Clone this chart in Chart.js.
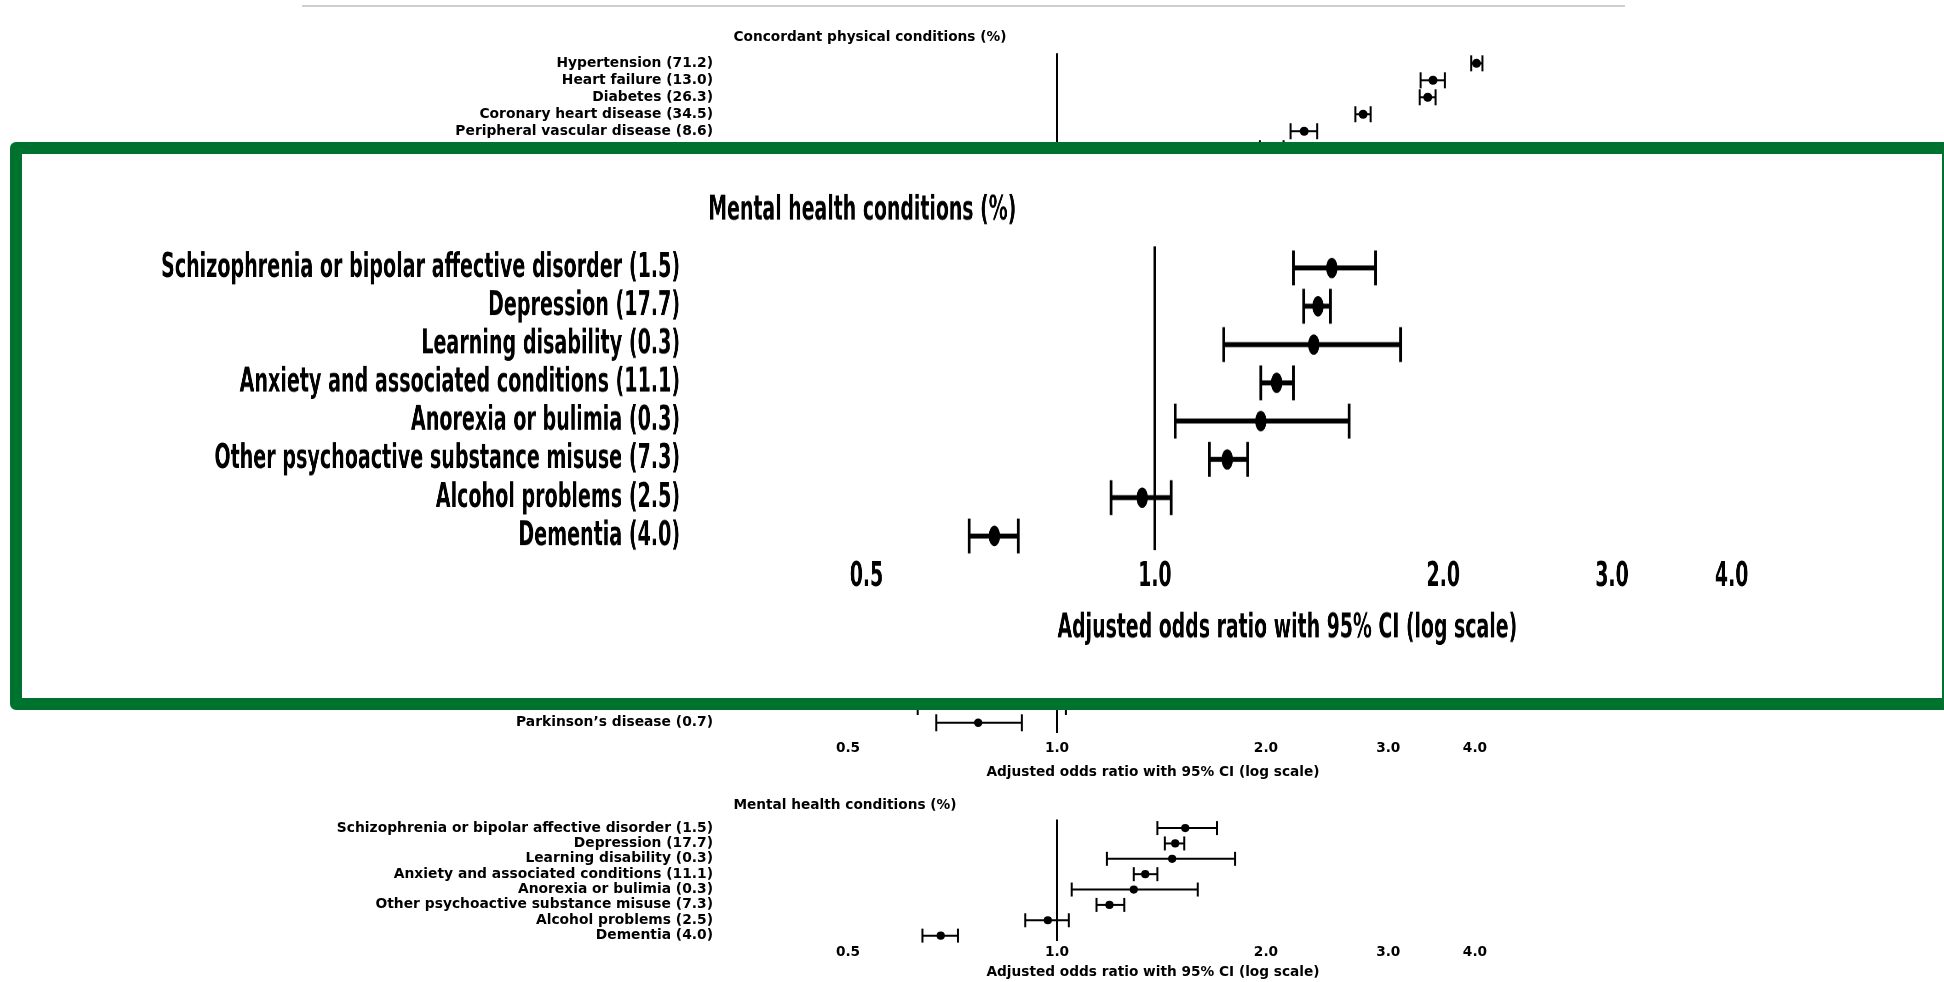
<!DOCTYPE html>
<html><head><meta charset="utf-8">
<script src="https://cdn.jsdelivr.net/npm/chart.js@4.4.1/dist/chart.umd.min.js"></script>
<style>
html,body{margin:0;padding:0;background:#fff;width:1944px;height:982px;overflow:hidden;}
.c{position:absolute;}
#rule{position:absolute;left:302px;top:5px;width:1323px;height:2px;background:#cfcfcf;}
#inset{position:absolute;left:10px;top:142px;width:1944px;height:568px;box-sizing:border-box;border:12px solid #00722f;border-radius:6px;background:#fff;overflow:hidden;z-index:5;}
#insetWrap{position:absolute;left:-35.9px;top:34.1px;transform-origin:0 0;transform:scale(1.38,2.492);}
</style></head><body>
<div id="rule"></div>
<canvas id="c1" class="c" width="1235" height="153" style="left:260px;top:27px"></canvas>
<canvas id="c2" class="c" width="1285" height="185" style="left:210px;top:600px"></canvas>
<canvas id="c3" class="c" width="1285" height="189" style="left:210px;top:796px"></canvas>
<div id="inset"><div id="insetWrap"><canvas id="c4" width="1285" height="189"></canvas></div></div>
<script>
// ---- data ----
const tickValues = [0.5, 1, 2, 3, 4];
const tickLabels = ['0.5', '1.0', '2.0', '3.0', '4.0'];
const axisTitle = 'Adjusted odds ratio with 95% CI (log scale)';

const physTitle = 'Concordant physical conditions (%)';
const physLabels = ['Hypertension (71.2)', 'Heart failure (13.0)', 'Diabetes (26.3)', 'Coronary heart disease (34.5)', 'Peripheral vascular disease (8.6)', ''];
const physOR = [4.02, 3.48, 3.42, 2.76, 2.27, 2.04];
const physLo = [3.95, 3.34, 3.33, 2.69, 2.17, 1.96];
const physHi = [4.10, 3.62, 3.51, 2.83, 2.37, 2.12];

const discLabels = ['', 'Parkinson\u2019s disease (0.7)'];
const discOR = [null, 0.77];
const discLo = [0.63, 0.67];
const discHi = [1.03, 0.89];

const mentalTitle = 'Mental health conditions (%)';
const mentalLabels = ['Schizophrenia or bipolar affective disorder (1.5)', 'Depression (17.7)', 'Learning disability (0.3)', 'Anxiety and associated conditions (11.1)', 'Anorexia or bulimia (0.3)', 'Other psychoactive substance misuse (7.3)', 'Alcohol problems (2.5)', 'Dementia (4.0)'];
const mentalOR = [1.53, 1.48, 1.465, 1.34, 1.29, 1.19, 0.97, 0.68];
const mentalLo = [1.395, 1.43, 1.18, 1.29, 1.05, 1.14, 0.90, 0.64];
const mentalHi = [1.70, 1.525, 1.805, 1.395, 1.595, 1.25, 1.04, 0.72];

// ---- chart ----
Chart.defaults.font.family = "'DejaVu Sans', sans-serif";
Chart.defaults.color = '#000';
const FONT = {family: "'DejaVu Sans', sans-serif", size: 13.85, weight: 'bold', lineHeight: 1.2};
const TFONT = {family: "'DejaVu Sans', sans-serif", size: 13.7, weight: 'bold', lineHeight: 1.2};
const X_MIN = 0.4648, X_MAX = 4.067;

function forest(id, p) {
  const datasets = [{
    data: p.est.map((v, i) => v == null ? null : {x: v, y: i}).filter(d => d),
    showLine: false, clip: false, pointStyle: 'circle', pointRadius: p.dot, pointBackgroundColor: '#000', pointBorderWidth: 0
  }];
  p.lo.forEach((lo, i) => {
    datasets.push({
      data: [{x: lo, y: i}, {x: p.hi[i], y: i}],
      showLine: true, clip: false, borderColor: '#000', borderWidth: 2,
      pointStyle: 'line', pointRotation: 90, pointRadius: p.cap,
      pointBorderWidth: 2, pointBorderColor: '#000', pointBackgroundColor: '#000'
    });
  });
  return new Chart(document.getElementById(id), {
    type: 'scatter',
    data: {datasets},
    options: {
      responsive: false, animation: false, devicePixelRatio: p.dpr || 1,
      events: [],
      layout: {padding: {left: 0, right: 15, top: p.padTop || 0, bottom: p.padBottom || 0}},
      plugins: {
        legend: {display: false}, tooltip: {enabled: false},
        title: p.title ? {display: true, text: p.title, color: '#000', font: TFONT, padding: p.titlePad} : {display: false}
      },
      scales: {
        x: {
          type: 'logarithmic', min: X_MIN, max: X_MAX,
          afterBuildTicks: s => { s.ticks = tickValues.map(v => ({value: v})); },
          ticks: {display: p.showX, autoSkip: false, maxRotation: 0, minRotation: 0, padding: p.tickPad || 3,
                  callback: (v, i) => tickLabels[i], color: '#000', font: TFONT},
          grid: {display: true, drawTicks: false, lineWidth: 2,
                 color: c => (c.tick && c.tick.value === 1) ? '#000' : 'rgba(0,0,0,0)'},
          border: {display: false},
          title: {display: p.showX, text: axisTitle, color: '#000', font: TFONT, padding: {top: p.axTitlePad || 4, bottom: 4}}
        },
        y: {
          type: 'linear', reverse: true, min: p.yMin, max: p.yMax,
          afterBuildTicks: s => { s.ticks = p.labels.map((_, i) => ({value: i})); },
          afterFit: s => { s.width = p.yWidth; },
          ticks: {autoSkip: false, padding: 3, callback: v => p.labels[v], color: '#000', font: FONT},
          grid: {display: false, drawTicks: true, tickLength: 110},
          border: {display: false}
        }
      }
    }
  });
}

forest('c1', {labels: physLabels, est: physOR, lo: physLo, hi: physHi, title: physTitle,
  titlePad: {top: 2, bottom: 7.7}, yMin: -0.6, yMax: 5.99, cap: 8, dot: 4.5, showX: false,
  padBottom: 15, yWidth: 566});

forest('c2', {labels: discLabels, est: discOR, lo: discLo, hi: discHi, title: null,
  yMin: -5.319, yMax: 1.642, cap: 8.5, dot: 4.2, showX: true, tickPad: 6.8, axTitlePad: 1.3,
  padTop: 20, yWidth: 616});

const mentalCfg = {labels: mentalLabels, est: mentalOR, lo: mentalLo, hi: mentalHi, title: mentalTitle,
  titlePad: {top: 1, bottom: 6}, yMin: -0.5625, yMax: 7.373, cap: 7, dot: 4.1, showX: true,
  tickPad: 2.4, axTitlePad: 1.96, yWidth: 616};
forest('c3', mentalCfg);
forest('c4', Object.assign({}, mentalCfg, {dpr: 3}));
</script>
</body></html>
